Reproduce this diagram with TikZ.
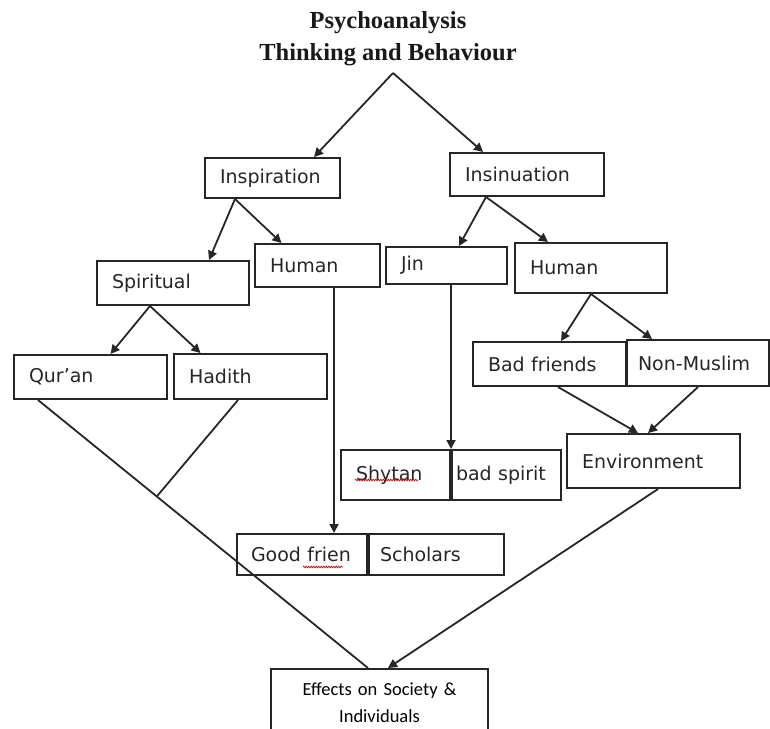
\documentclass[tikz,border=0pt]{standalone}
\usepackage{fontspec}
\setmainfont{Liberation Serif}
\newfontfamily\boxfont{DejaVu Sans}
\newfontfamily\notefont{Carlito}
\usetikzlibrary{arrows.meta, calc, decorations.pathmorphing}

\begin{document}
\begin{tikzpicture}[
        x=1pt, y=-1pt,
        box/.style={draw=black!85, line width=2pt, anchor=north west, inner xsep=15pt, inner ysep=0pt,
                    align=left, text=black!85, font=\boxfont\fontsize{19}{22}\selectfont},
        arrow/.style={-{Triangle[length=9pt, width=9pt]}, line width=1.8pt, black!85},
        link/.style={line width=1.8pt, black!85},
        spell/.style={red!80!black, line width=0.7pt, decorate, decoration={snake, amplitude=0.8pt, segment length=2.5pt}},
    ]
        \clip (0,0) rectangle (770,728);

        % ====== title ======
        \node[font=\bfseries\fontsize{24.5}{32}\selectfont, align=center, text=black!90] (title) at (388,39)
            {Psychoanalysis\\Thinking and Behaviour};
        \coordinate (apex) at (393,73);

        % ====== upper row ======
        \node[box, text width=105pt, minimum height=40pt] (insp)   at (204,157) {Inspiration};
        \node[box, text width=124pt, minimum height=43pt] (insin)  at (449,152) {Insinuation};

        % ====== second row ======
        \node[box, text width=122pt, minimum height=44pt] (spir)   at (96,260)  {Spiritual};
        \node[box, text width=95pt,  minimum height=43pt] (humL)   at (254,243) {Human};
        \node[box, text width=91pt,  minimum height=37pt] (jin)    at (385,246) {Jin};
        \node[box, text width=122pt, minimum height=50pt] (humR)   at (514,242) {Human};

        % ====== third row ======
        \node[box, text width=123pt, minimum height=44pt] (quran)  at (13,354)  {Qur’an};
        \node[box, text width=123pt, minimum height=45pt] (hadith) at (173,353) {Hadith};
        \node[box, text width=123pt, minimum height=44pt] (badf)   at (472,341) {Bad friends};
        \node[box, text width=120pt, minimum height=46pt, inner xsep=11pt] (nonm) at (626,339) {Non-Muslim};

        % ====== split boxes ======
        \node[box, text width=79pt,  minimum height=50pt] (shytan) at (340,449) {Shytan};
        \node[box, text width=101pt, minimum height=50pt, inner xsep=4pt] (badsp) at (shytan.north east) {bad spirit};
        \node[box, text width=143pt, minimum height=54pt] (env)    at (566,433) {Environment};

        \node[box, text width=102pt, minimum height=41pt, inner xsep=14pt] (goodf) at (236,533) {Good frien};
        \node[box, text width=113pt, minimum height=41pt, inner xsep=11pt] (schol) at (goodf.north east) {Scholars};

        % spell-check marks
        \draw[spell] ([xshift=15pt, yshift=21pt]shytan.south west) -- ++(63,0);
        \draw[spell] ([xshift=67pt, yshift=9pt]goodf.south west) -- ++(40,0);

        % ====== bottom ======
        \node[box, align=center, text width=187pt, minimum height=67pt, text=black,
              font=\notefont\fontsize{18.5}{27}\selectfont]
            (effects) at (270,668) {Effects on Society \&\\Individuals};

        % ====== arrows ======
        \draw[arrow] (apex) -- ([xshift=41.5pt]insp.north);
        \draw[arrow] (apex) -- ([xshift=-44pt]insin.north);

        \draw[arrow] ([xshift=31pt]insp.south west) -- ([xshift=36pt]spir.north);
        \draw[arrow] ([xshift=31pt]insp.south west) -- ([xshift=-36pt]humL.north);

        \draw[arrow] ([xshift=-23pt]spir.south) -- ([xshift=20pt]quran.north);
        \draw[arrow] ([xshift=-23pt]spir.south) -- ([xshift=-50pt]hadith.north);

        \draw[arrow] ([xshift=37pt]insin.south west) -- ([xshift=12.5pt]jin.north);
        \draw[arrow] ([xshift=37pt]insin.south west) -- ([xshift=34pt]humR.north west);

        \draw[arrow] (humR.south) -- ([xshift=11.5pt]badf.north);
        \draw[arrow] (humR.south) -- ([xshift=26pt]nonm.north west);

        \draw[arrow] ([xshift=8.5pt]badf.south) -- ([xshift=-15.5pt]env.north);
        \draw[arrow] (nonm.south) -- ([xshift=-5.5pt]env.north);

        % vertical drops
        \draw[arrow] (jin.south -| badsp.north west) -- (badsp.north west);
        \draw[arrow] ([xshift=16.5pt]humL.south) -- ([xshift=16.5pt]humL.south |- goodf.north);

        % lines into effects
        \coordinate (meet) at ($([xshift=25pt]quran.south west)!0.36!([xshift=-11.5pt]effects.north)$);
        \draw[link] ([xshift=25pt]quran.south west) -- ([xshift=-11.5pt]effects.north);
        \draw[link] ([xshift=-12.5pt]hadith.south) -- (meet);
        \draw[arrow] ([xshift=4.5pt]env.south) -- ([xshift=8.5pt]effects.north);
\end{tikzpicture}
\end{document}
